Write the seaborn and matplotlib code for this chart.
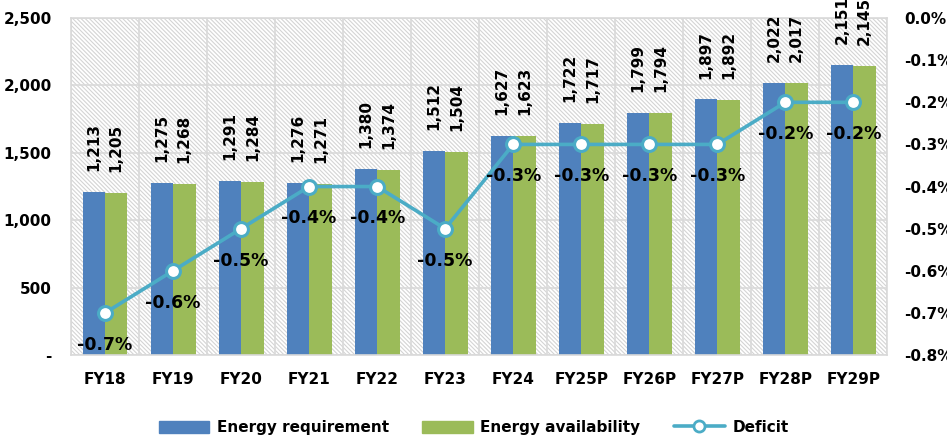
import numpy as np
import pandas as pd
import matplotlib
matplotlib.use('Agg')
import matplotlib.pyplot as plt
import matplotlib.ticker as ticker
import matplotlib.patches as mpatches
from matplotlib.lines import Line2D
import seaborn as sns

years = ['FY18', 'FY19', 'FY20', 'FY21', 'FY22', 'FY23', 'FY24',
         'FY25P', 'FY26P', 'FY27P', 'FY28P', 'FY29P']
requirement = [1213, 1275, 1291, 1276, 1380, 1512, 1627, 1722, 1799, 1897, 2022, 2151]
availability = [1205, 1268, 1284, 1271, 1374, 1504, 1623, 1717, 1794, 1892, 2017, 2145]
deficit = [-0.7, -0.6, -0.5, -0.4, -0.4, -0.5, -0.3, -0.3, -0.3, -0.3, -0.2, -0.2]
series = ['Energy requirement', 'Energy availability']
colors = ['#4f81bd', '#9bbb59']
line_color = '#4bacc6'
grid_color = '#d9d9d9'

sns.set_style('white')
plt.rcParams['font.family'] = ['DejaVu Sans']
plt.rcParams['font.weight'] = 'bold'
plt.rcParams['text.color'] = 'black'
plt.rcParams['xtick.color'] = 'black'
plt.rcParams['ytick.color'] = 'black'
plt.rcParams['hatch.color'] = '#d4d4d4'
plt.rcParams['hatch.linewidth'] = 0.8

df = pd.DataFrame({
    'year': years * 2,
    'value': requirement + availability,
    'series': [series[0]] * len(years) + [series[1]] * len(years),
})

fig, ax = plt.subplots(figsize=(9.47, 4.41), dpi=100)
fig.subplots_adjust(left=0.075, right=0.937, top=0.959, bottom=0.195)

# hatched background like the excel plot area
ax.patch.set_hatch('\\' * 8)
ax.patch.set_edgecolor('#d4d4d4')
ax.patch.set_linewidth(0)

sns.barplot(data=df, x='year', y='value', hue='series', palette=colors,
            width=0.66, saturation=1, linewidth=0, ax=ax, legend=False)

for cont in ax.containers:
    ax.bar_label(cont, fmt='{:,.0f}', rotation=90, padding=15,
                 fontsize=11, fontweight='bold', color='black')

ax.set_ylim(0, 2500)
ax.set_xlim(-0.5, len(years) - 0.5)
ax.yaxis.set_major_locator(ticker.MultipleLocator(500))
ax.yaxis.set_major_formatter(ticker.FuncFormatter(
    lambda v, pos: '-' if v == 0 else '{:,.0f}'.format(v)))
ax.set_xticks(np.arange(-0.5, len(years)), minor=True)
ax.grid(axis='y', which='major', color=grid_color, linewidth=1.2)
ax.grid(axis='x', which='minor', color=grid_color, linewidth=1.2)
ax.set_axisbelow(True)
ax.tick_params(axis='x', which='major', length=0, pad=12, labelsize=11)
ax.tick_params(axis='x', which='minor', length=5, color=grid_color, width=1.2)
ax.tick_params(axis='y', length=0, pad=14, labelsize=11)
ax.set_xlabel('')
ax.set_ylabel('')
for s in ax.spines.values():
    s.set_color(grid_color)
    s.set_linewidth(1.2)

ax2 = ax.twinx()
sns.lineplot(x=np.arange(len(years)), y=deficit, ax=ax2, color=line_color,
             linewidth=2.6, marker='o', markersize=10, markerfacecolor='white',
             markeredgecolor=line_color, markeredgewidth=2.2)
ax2.set_ylim(-0.8, 0.0)
ax2.yaxis.set_major_locator(ticker.MultipleLocator(0.1))
ax2.yaxis.set_major_formatter(ticker.FuncFormatter(lambda v, pos: '{:.1f}%'.format(v)))
ax2.tick_params(axis='y', length=0, pad=12, labelsize=11)
for s in ax2.spines.values():
    s.set_visible(False)

for i, d in enumerate(deficit):
    ax2.annotate('{:.1f}%'.format(d), (i, d), xytext=(0, -23),
                 textcoords='offset points', ha='center', va='center',
                 fontsize=12.5, fontweight='bold')

handles = [mpatches.Patch(color=colors[0], label=series[0]),
           mpatches.Patch(color=colors[1], label=series[1]),
           Line2D([0], [0], color=line_color, linewidth=2.6, marker='o',
                  markersize=8, markerfacecolor='white',
                  markeredgecolor=line_color, markeredgewidth=2, label='Deficit')]
fig.legend(handles=handles, loc='center', bbox_to_anchor=(0.5, 0.03), ncol=3,
           frameon=False, fontsize=11, handlelength=3.3, handleheight=0.9,
           columnspacing=2.2, handletextpad=0.5)

fig.savefig('out.png', dpi=100)
